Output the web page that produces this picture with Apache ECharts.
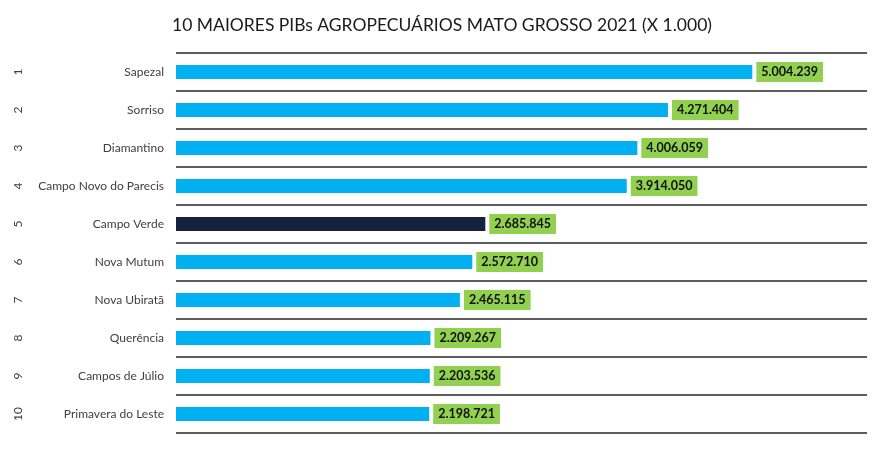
<!DOCTYPE html>
<html><head><meta charset="utf-8">
<script src="https://cdn.jsdelivr.net/npm/echarts@6/dist/echarts.min.js"></script>
<style>html,body{margin:0;padding:0;background:#fff}#c{width:884px;height:450px}</style>
</head><body><div id="c"></div>
<script>
const titleText = '10 MAIORES PIBs AGROPECUÁRIOS MATO GROSSO 2021 (X 1.000)';
const categories = ['Sapezal','Sorriso','Diamantino','Campo Novo do Parecis','Campo Verde','Nova Mutum','Nova Ubiratã','Querência','Campos de Júlio','Primavera do Leste'];
const ranks = ['1','2','3','4','5','6','7','8','9','10'];
const values = [5004239, 4271404, 4006059, 3914050, 2685845, 2572710, 2465115, 2209267, 2203536, 2198721];
const highlight = 'Campo Verde';

const FONT = 'Lato';
function fmt(v){ return String(v).replace(/\B(?=(\d{3})+(?!\d))/g, '.'); }

const chart = echarts.init(document.getElementById('c'), null, {renderer:'canvas'});
chart.setOption({
  animation:false,
  title:{text:titleText,left:'center',top:11,textStyle:{fontFamily:FONT,fontSize:17.5,fontWeight:'normal',color:'#1a1a1a'}},
  grid:{left:176,right:17,top:53,bottom:17,containLabel:false},
  xAxis:{type:'value',min:0,max:6000000,show:false},
  yAxis:[{
    type:'category',data:categories,inverse:true,
    axisLine:{show:false},axisTick:{show:false},
    axisLabel:{margin:12,fontFamily:FONT,fontSize:12,color:'#404040'},
    splitLine:{show:true,lineStyle:{color:'#262626',width:1.6}}
  },{
    type:'category',data:ranks,inverse:true,position:'left',offset:152,
    axisLine:{show:false},axisTick:{show:false},
    axisLabel:{rotate:90,margin:0,fontFamily:FONT,fontSize:12,color:'#404040',align:'center',verticalAlign:'bottom'},
    splitLine:{show:false}
  }],
  series:[{
    type:'bar',yAxisIndex:0,barWidth:14,
    data:values.map((v,i)=>({value:v,itemStyle:{color:categories[i]===highlight?'#14233b':'#00b0f0'}})),
    label:{show:true,position:'right',distance:4,formatter:p=>fmt(p.value),
      fontFamily:FONT,fontSize:12.5,fontWeight:'bold',color:'#111',
      backgroundColor:'#92d050',padding:[4,5,3,5]}
  }]
});
</script></body></html>
